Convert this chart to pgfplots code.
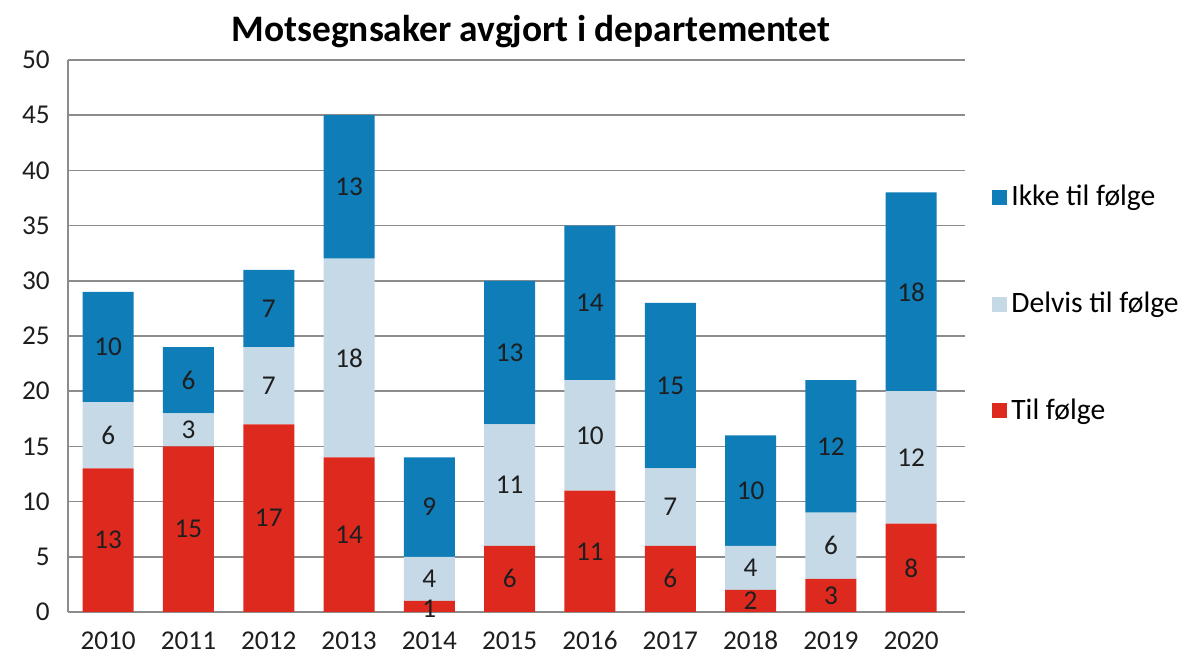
\documentclass[border=0pt]{standalone}
\usepackage{pgfplots}
\pgfplotsset{compat=1.18}
\usepackage{fontspec}
\setmainfont{Carlito}
\definecolor{cRed}{HTML}{DE2A1E}
\definecolor{cLight}{HTML}{C6D9E6}
\definecolor{cBlue}{HTML}{0E7DB8}
\definecolor{gridgray}{HTML}{8C8C8C}
\definecolor{lbl}{HTML}{1E1E1E}
\begin{document}
\begin{tikzpicture}
\pgfplotsset{
  common/.style={
    scale only axis, width=448.5pt, height=276pt,
    xmin=-0.5, xmax=10.67, ymin=0, ymax=50,
  }
}
\begin{axis}[
  common,
  ybar stacked, bar width=25.5pt,
  axis x line*=bottom, axis y line*=left,
  axis line style={gridgray, line width=1pt},
  ytick={0,5,...,50},
  xtick={0,1,2,3,4,5,6,7,8,9,10},
  xticklabels={2010,2011,2012,2013,2014,2015,2016,2017,2018,2019,2020},
  /pgf/number format/assume math mode=true,
  ymajorgrids, grid style={gridgray, line width=0.8pt},
  major tick length=0pt,
  tick label style={font=\fontsize{13.6}{15}\selectfont, text=lbl},
  yticklabel style={anchor=east, inner sep=0pt, xshift=-9pt},
  xticklabel style={anchor=base, inner sep=0pt, yshift=-19pt},
  title={Motsegnsaker avgjort i departementet},
  title style={at={(0.516,1)}, anchor=base, yshift=3.5pt, font=\fontsize{18.7}{22}\selectfont\bfseries},
  legend style={at={(1.030,0.781)}, anchor=north west, draw=none, fill=none,
    font=\fontsize{14.8}{17}\selectfont, row sep=37.7pt, inner sep=0pt},
  legend cell align=left,
  reverse legend,
  legend image code/.code={\fill[#1] (-2pt,-3.75pt) rectangle (5.5pt,3.75pt);},
]
\addplot[fill=cRed, draw=none] coordinates {(0,13) (1,15) (2,17) (3,14) (4,1) (5,6) (6,11) (7,6) (8,2) (9,3) (10,8)};
\addplot[fill=cLight, draw=none] coordinates {(0,6) (1,3) (2,7) (3,18) (4,4) (5,11) (6,10) (7,7) (8,4) (9,6) (10,12)};
\addplot[fill=cBlue, draw=none] coordinates {(0,10) (1,6) (2,7) (3,13) (4,9) (5,13) (6,14) (7,15) (8,10) (9,12) (10,18)};
\legend{Til følge, Delvis til følge, Ikke til følge}
\end{axis}
\begin{axis}[
  common, hide axis, clip=false,
  nodes near coords, point meta=explicit symbolic,
  every node near coord/.append style={anchor=center, font=\fontsize{13.6}{15}\selectfont, text=lbl, inner sep=0pt},
]
\addplot[draw=none, mark=none] coordinates {
 (0,6.5)[13] (1,7.5)[15] (2,8.5)[17] (3,7)[14] (4,0.3)[1] (5,3)[6] (6,5.5)[11] (7,3)[6] (8,1)[2] (9,1.5)[3] (10,4)[8]};
\addplot[draw=none, mark=none] coordinates {
 (0,16)[6] (1,16.5)[3] (2,20.5)[7] (3,23)[18] (4,3)[4] (5,11.5)[11] (6,16)[10] (7,9.5)[7] (8,4)[4] (9,6)[6] (10,14)[12]};
\addplot[draw=none, mark=none] coordinates {
 (0,24)[10] (1,21)[6] (2,27.5)[7] (3,38.5)[13] (4,9.5)[9] (5,23.5)[13] (6,28)[14] (7,20.5)[15] (8,11)[10] (9,15)[12] (10,29)[18]};
\end{axis}
\pgfresetboundingbox
\useasboundingbox (-34pt,-25pt) rectangle (556pt,306pt);
\end{tikzpicture}
\end{document}
